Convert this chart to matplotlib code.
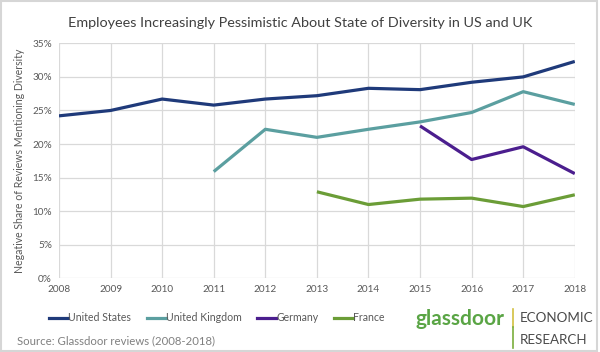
import numpy as np
import matplotlib
matplotlib.use("Agg")
import matplotlib.pyplot as plt
from matplotlib.patches import Rectangle
from matplotlib.lines import Line2D

plt.rcParams['font.family'] = ['Lato', 'DejaVu Sans']

years = [2008, 2009, 2010, 2011, 2012, 2013, 2014, 2015, 2016, 2017, 2018]
us = [24.2, 25.0, 26.7, 25.8, 26.7, 27.2, 28.3, 28.1, 29.2, 30.0, 32.3]
uk_years = [2011, 2012, 2013, 2014, 2015, 2016, 2017, 2018]
uk = [15.9, 22.2, 21.0, 22.2, 23.3, 24.7, 27.8, 25.9]
de_years = [2015, 2016, 2017, 2018]
de = [22.7, 17.7, 19.6, 15.6]
fr_years = [2013, 2014, 2015, 2016, 2017, 2018]
fr = [12.9, 11.0, 11.8, 11.95, 10.7, 12.45]

series = [
    ("United States", years, us, "#1f3a7a"),
    ("United Kingdom", uk_years, uk, "#5b9fa0"),
    ("Germany", de_years, de, "#4b1e8e"),
    ("France", fr_years, fr, "#6b9d37"),
]

fig = plt.figure(figsize=(6, 3.52), dpi=100)
ax = fig.add_axes([0.0983, 0.209, 0.8597, 0.668])

for name, xs, ys, col in series:
    ax.plot(xs, ys, color=col, lw=2.3, solid_capstyle='butt', label=name)

ax.set_xlim(2008, 2018)
ax.set_ylim(0, 35)
ax.set_xticks(years)
ax.set_yticks(np.arange(0, 36, 5))
ax.set_yticklabels([f"{v}%" for v in range(0, 36, 5)])
ax.grid(True, color="#d9d9d9", lw=0.9)
ax.set_axisbelow(True)
for s in ax.spines.values():
    s.set_visible(False)
ax.tick_params(length=0, labelsize=7.2, colors="#595959", pad=5)
ax.set_ylabel("Negative Share of Reviews Mentioning Diversity", fontsize=7.6,
              color="#595959", labelpad=5)

fig.text(0.5, 0.935, "Employees Increasingly Pessimistic About State of Diversity in US and UK",
         ha="center", va="center", fontsize=10.4, color="#404040")

handles = [Line2D([], [], color=c, lw=2.3) for _, _, _, c in series]
fig.legend(handles, [s[0] for s in series], loc="center left",
           bbox_to_anchor=(0.082, 0.097), ncol=4, frameon=False, fontsize=7.6,
           handlelength=1.8, handletextpad=0.0, columnspacing=1.5,
           labelcolor="#595959", borderaxespad=0, borderpad=0)

fig.text(0.028, 0.031, "Source: Glassdoor reviews (2008-2018)", fontsize=8.2,
         color="#808080", va="center")

# logo block
fig.text(0.692, 0.094, "glassdoor", fontsize=15, fontweight="bold", color="#5aa545",
         va="center", ha="left")
fig.add_artist(Line2D([0.855, 0.855], [0.122, 0.07], transform=fig.transFigure,
                      color="#d2c040", lw=1.2))
fig.add_artist(Line2D([0.855, 0.855], [0.07, 0.011], transform=fig.transFigure,
                      color="#7aae3c", lw=1.2))
fig.text(0.866, 0.097, "ECONOMIC", fontsize=9.6, color="#4a4a4a", va="center")
fig.text(0.866, 0.034, "RESEARCH", fontsize=9.6, color="#4a4a4a", va="center")

fig.add_artist(Rectangle((0.002, 0.003), 0.993, 0.994, transform=fig.transFigure,
                         fill=False, edgecolor="#d6d6d6", lw=1.5))

fig.savefig("out.png", dpi=100)
